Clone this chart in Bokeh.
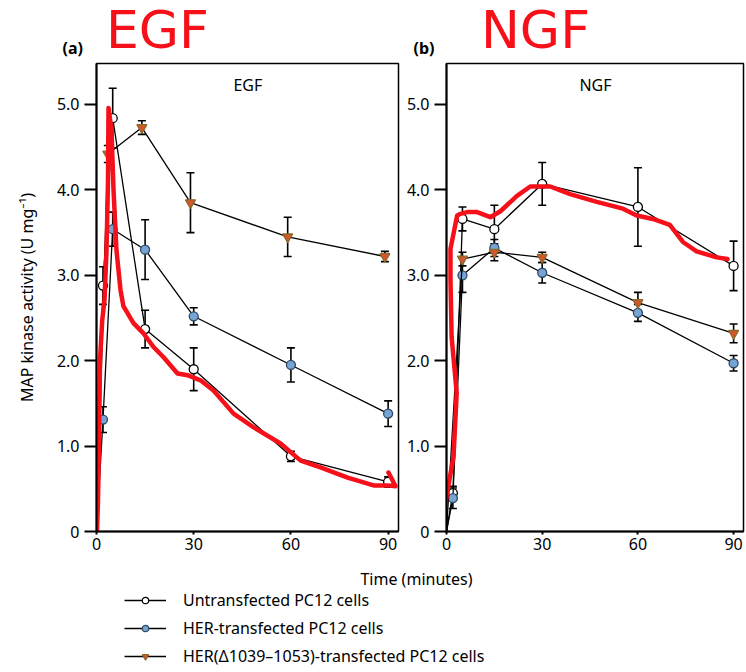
import numpy as np
from bokeh.plotting import figure
from bokeh.layouts import column, row
from bokeh.models import (ColumnDataSource, Whisker, Range1d, Label, Legend,
                          LegendItem, FixedTicker, TeeHead)
from bokeh.embed import file_html
from bokeh.resources import INLINE

FONT = "Noto Sans"

# ---------------- data ----------------
series_names = ["Untransfected PC12 cells",
                "HER-transfected PC12 cells",
                "HER(\u03941039\u20131053)-transfected PC12 cells"]
panel_names = ["EGF", "NGF"]
panel_tags = ["(a)", "(b)"]

xticks = [0, 30, 60, 90]
yticks = [0, 1, 2, 3, 4, 5]
ytick_labels = ["0", "1.0", "2.0", "3.0", "4.0", "5.0"]

# (a) EGF
egf_t = [0, 2, 5, 15, 30, 60, 90]
egf_untrans = [0, 2.88, 4.84, 2.37, 1.90, 0.88, 0.58]
egf_untrans_err = [0, 0.22, 0.35, 0.22, 0.25, 0.06, 0.06]
egf_her = [0, 1.31, 3.54, 3.30, 2.52, 1.95, 1.38]
egf_her_err = [0, 0.15, 0.20, 0.35, 0.10, 0.20, 0.15]
egf_mut_t = [0, 3.5, 14, 29, 59, 89]
egf_mut = [0, 4.42, 4.73, 3.85, 3.45, 3.22]
egf_mut_err = [0, 0.10, 0.08, 0.35, 0.23, 0.06]

# (b) NGF
ngf_t = [0, 2, 5, 15, 30, 60, 90]
ngf_untrans = [0, 0.45, 3.66, 3.54, 4.07, 3.80, 3.11]
ngf_untrans_err = [0, 0.08, 0.14, 0.28, 0.25, 0.46, 0.29]
ngf_her = [0, 0.39, 3.00, 3.32, 3.03, 2.56, 1.97]
ngf_her_err = [0, 0.12, 0.20, 0.10, 0.12, 0.10, 0.09]
ngf_mut_t = [0, 5, 15, 30, 60, 90]
ngf_mut = [0, 3.19, 3.27, 3.21, 2.68, 2.32]
ngf_mut_err = [0, 0.08, 0.10, 0.06, 0.12, 0.11]

# red hand-drawn sketch traces
egf_sketch_t = [0.15, 0.46, 0.77, 1.08, 1.76, 2.47, 3.09, 3.55, 3.70, 4.63, 5.25,
                6.17, 7.4, 8.3, 11.4, 14.5, 17.6, 20.7, 25.0, 28.1, 32.1, 36.1,
                42.3, 48.5, 56.8, 63.0, 69.1, 77.5, 85.5, 89.8, 92.3, 90.1]
egf_sketch_v = [0.0, 0.36, 1.07, 2.0, 2.47, 2.71, 3.29, 4.11, 4.96, 4.70, 4.0,
                3.29, 2.83, 2.64, 2.44, 2.32, 2.16, 2.04, 1.85, 1.83, 1.77, 1.65,
                1.38, 1.22, 1.03, 0.83, 0.75, 0.63, 0.54, 0.54, 0.53, 0.69]
ngf_sketch_t = [-1.3, 0.31, 2.19, 3.2, 1.6, 1.25, 1.25, 3.34, 4.38, 6.47, 9.6,
                13.75, 16.9, 22.1, 26.25, 32.5, 38.75, 47.1, 55.3, 59.6, 64.7,
                70.0, 74.1, 78.4, 84.7, 88.1]
ngf_sketch_v = [0.09, 0.48, 0.87, 1.62, 2.28, 2.95, 3.31, 3.70, 3.72, 3.74, 3.74,
                3.68, 3.75, 3.93, 4.04, 4.04, 3.95, 3.86, 3.78, 3.70, 3.66,
                3.59, 3.39, 3.28, 3.21, 3.19]

# ---------------- styles ----------------
styles = [
    dict(marker="circle", fill_color="white", line_color="black", size=9),
    dict(marker="circle", fill_color="#78a4d4", line_color="#2d4a66", size=9),
    dict(marker="inverted_triangle", fill_color="#d4562a", line_color="#8a6a2a", size=10),
]
RED = "#f5101a"


def make_panel(series, sketch, frame_w, x_end, left_border, right_border,
               show_ylabel, name):
    p = figure(frame_width=frame_w, frame_height=468,
               min_border_left=left_border, min_border_right=right_border,
               min_border_top=2, min_border_bottom=30,
               x_range=Range1d(0, x_end), y_range=Range1d(0, 5.48),
               output_backend="svg", toolbar_location=None)
    p.xgrid.visible = False
    p.ygrid.visible = False
    p.outline_line_color = "black"
    p.outline_line_width = 1.5
    p.background_fill_color = "white"
    p.border_fill_color = "white"

    for ax in (p.xaxis, p.yaxis):
        ax.axis_line_width = 2
        ax.axis_line_color = "black"
        ax.major_tick_line_color = "black"
        ax.major_tick_line_width = 2
        ax.minor_tick_out = 0
        ax.minor_tick_in = 0
        ax.major_tick_in = 0
        ax.major_label_text_font = FONT
        ax.major_label_text_font_size = "16px"
        ax.major_label_text_color = "black"
    p.xaxis.ticker = FixedTicker(ticks=xticks)
    p.xaxis.major_tick_out = 3
    p.xaxis.major_label_standoff = 3
    p.yaxis.ticker = FixedTicker(ticks=yticks)
    p.yaxis.major_label_overrides = {t: l for t, l in zip(yticks, ytick_labels)}
    p.yaxis.major_tick_out = 12
    p.yaxis.major_label_standoff = 5
    if show_ylabel:
        p.yaxis.axis_label = "MAP kinase activity (U mg\u207b\u00b9)"
        p.yaxis.axis_label_text_font = FONT
        p.yaxis.axis_label_text_font_size = "16px"
        p.yaxis.axis_label_text_font_style = "normal"
        p.yaxis.axis_label_text_color = "black"
        p.yaxis.axis_label_standoff = 16

    for (t, v, e), st in zip(series, styles):
        p.line(t, v, line_color="black", line_width=1.3)
        lo = [a - b for a, b in zip(v, e)]
        hi = [a + b for a, b in zip(v, e)]
        src = ColumnDataSource(dict(t=t[1:], v=v[1:], lo=lo[1:], hi=hi[1:]))
        w = Whisker(source=src, base="t", lower="lo", upper="hi",
                    line_color="black", line_width=1.6,
                    upper_head=TeeHead(size=8, line_color="black", line_width=1.6),
                    lower_head=TeeHead(size=8, line_color="black", line_width=1.6))
        p.add_layout(w)
        p.scatter("t", "v", source=src, marker=st["marker"], size=st["size"],
                  fill_color=st["fill_color"], line_color=st["line_color"],
                  line_width=1.3)

    p.line(sketch[0], sketch[1], line_color=RED, line_width=4.5,
           line_join="round", line_cap="round")

    p.add_layout(Label(x=46.7, y=5.23, text=name, text_align="center",
                       text_baseline="middle", text_font=FONT,
                       text_font_size="16px", text_color="black"))
    return p


p1 = make_panel([(egf_t, egf_untrans, egf_untrans_err),
                 (egf_t, egf_her, egf_her_err),
                 (egf_mut_t, egf_mut, egf_mut_err)],
                (egf_sketch_t, egf_sketch_v),
                302, 93.2, 96, 2, True, panel_names[0])

p2 = make_panel([(ngf_t, ngf_untrans, ngf_untrans_err),
                 (ngf_t, ngf_her, ngf_her_err),
                 (ngf_mut_t, ngf_mut, ngf_mut_err)],
                (ngf_sketch_t, ngf_sketch_v),
                297, 93.1, 46, 3, False, panel_names[1])

# ---------------- top strip: panel tags and red handwritten notes ----------------
p0 = figure(frame_width=746, frame_height=61, min_border=0,
            x_range=Range1d(0, 746), y_range=Range1d(61, 0),
            x_axis_type=None, y_axis_type=None,
            output_backend="svg", toolbar_location=None)
p0.outline_line_color = None
p0.grid.visible = False
for tx, txt in zip([62, 413], panel_tags):
    p0.add_layout(Label(x=tx, y=47, text=txt, text_align="left",
                        text_baseline="middle", text_font=FONT,
                        text_font_size="16px", text_font_style="bold",
                        text_color="black"))
for tx, txt in zip([157, 535], panel_names):
    p0.add_layout(Label(x=tx, y=29, text=txt, text_align="center",
                        text_baseline="middle", text_font="DejaVu Sans",
                        text_font_size="52px", text_color=RED))

# ---------------- bottom: x label and legend ----------------
p3 = figure(frame_width=746, frame_height=108, min_border=0,
            x_range=Range1d(0, 746), y_range=Range1d(108, 0),
            x_axis_type=None, y_axis_type=None,
            output_backend="svg", toolbar_location=None)
p3.outline_line_color = None
p3.grid.visible = False
p3.add_layout(Label(x=416, y=17, text="Time (minutes)", text_align="center",
                    text_baseline="middle", text_font=FONT,
                    text_font_size="16px", text_color="black"))
items = []
for name, st in zip(series_names, styles):
    rl = p3.line(x=np.array([np.nan]), y=np.array([np.nan]),
                 line_color="black", line_width=1.3)
    rm = p3.scatter(x=np.array([np.nan]), y=np.array([np.nan]),
                    marker=st["marker"], fill_color=st["fill_color"],
                    line_color=st["line_color"], line_width=1.2)
    items.append(LegendItem(label=name, renderers=[rl, rm]))
leg = Legend(items=items, location=(124, 2), glyph_width=42, glyph_height=16,
             label_height=20, spacing=6, padding=0, margin=0, label_standoff=17,
             border_line_color=None, background_fill_alpha=0,
             label_text_font=FONT, label_text_font_size="16px",
             label_text_color="black")
p3.add_layout(leg)

layout = column(p0, row(p1, p2), p3)
open("out.html", "w").write(file_html(layout, INLINE))
